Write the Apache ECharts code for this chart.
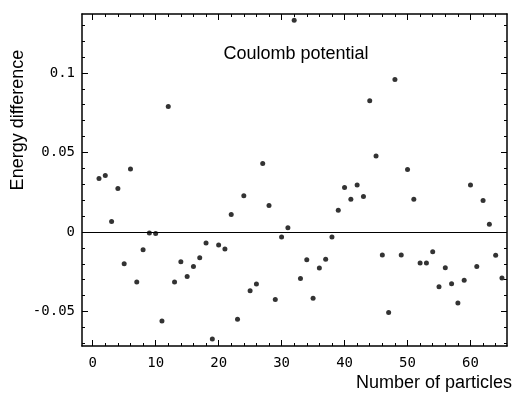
<!DOCTYPE html>
<html>
<head>
<meta charset="utf-8">
<script src="https://cdn.jsdelivr.net/npm/echarts@6/dist/echarts.min.js"></script>
<style>html,body{margin:0;padding:0;background:#fff}#c{width:514px;height:396px}</style>
</head>
<body>
<div id="c"></div>
<script>
// Number of particles (x)
const particles = [];
for (let i = 1; i <= 65; i++) particles.push(i);
// Energy difference (y)
const energyDiff = [
  0.0336, 0.0355, 0.0065, 0.0273, -0.0200, 0.0396, -0.0314, -0.0112, -0.0006, -0.0010,
  -0.0560, 0.0789, -0.0314, -0.0187, -0.0280, -0.0217, -0.0162, -0.0069, -0.0673, -0.0082,
  -0.0107, 0.0109, -0.0549, 0.0227, -0.0370, -0.0328, 0.0431, 0.0166, -0.0425, -0.0032,
  0.0027, 0.1330, -0.0292, -0.0175, -0.0417, -0.0227, -0.0172, -0.0032, 0.0137, 0.0280,
  0.0206, 0.0295, 0.0223, 0.0825, 0.0478, -0.0145, -0.0507, 0.0958, -0.0145, 0.0393,
  0.0206, -0.0196, -0.0196, -0.0124, -0.0345, -0.0225, -0.0326, -0.0446, -0.0303, 0.0295,
  -0.0217, 0.0198, 0.0049, -0.0147, -0.0290
];
const xMajorTicks = [0, 10, 20, 30, 40, 50, 60];
const xMinorTicks = [2,4,6,8,12,14,16,18,22,24,26,28,32,34,36,38,42,44,46,48,52,54,56,58,62,64];
const yMajorTicks = [-0.05, 0, 0.05, 0.1];
const yMinorTicks = [-0.07,-0.06,-0.04,-0.03,-0.02,-0.01,0.01,0.02,0.03,0.04,0.06,0.07,0.08,0.09,0.11,0.12,0.13];
const xLabels = ['0','10','20','30','40','50','60'];
const yLabels = ['-0.05','0','0.05','0.1'];

const X_MIN = -1.7, X_MAX = 65.8, Y_MIN = -0.0717, Y_MAX = 0.137;
const monoFont = 'DejaVu Sans Mono';
const sansFont = 'Liberation Sans';

function xAxisDef(pos, ticks, len, showLabel, showLine) {
  return {
    type: 'value', position: pos, min: X_MIN, max: X_MAX,
    splitLine: { show: false },
    axisLine: { show: showLine, onZero: false, lineStyle: { color: '#000', width: 1.5 } },
    axisTick: { show: true, inside: true, length: len, customValues: ticks, lineStyle: { color: '#000', width: 1 } },
    axisLabel: showLabel ? {
      show: true, customValues: ticks, margin: 10, color: '#000',
      fontFamily: monoFont, fontSize: 14,
      formatter: v => xLabels[xMajorTicks.indexOf(Math.round(v))]
    } : { show: false }
  };
}
function yAxisDef(pos, ticks, len, showLabel, showLine) {
  return {
    type: 'value', position: pos, min: Y_MIN, max: Y_MAX,
    splitLine: { show: false },
    axisLine: { show: showLine, onZero: false, lineStyle: { color: '#000', width: 1.5 } },
    axisTick: { show: true, inside: true, length: len, customValues: ticks, lineStyle: { color: '#000', width: 1 } },
    axisLabel: showLabel ? {
      show: true, customValues: ticks, margin: 7, color: '#000',
      fontFamily: monoFont, fontSize: 14,
      formatter: v => {
        const i = yMajorTicks.findIndex(t => Math.abs(t - v) < 1e-6);
        return i >= 0 ? yLabels[i] : '';
      }
    } : { show: false }
  };
}

const xa0 = xAxisDef('bottom', xMajorTicks, 6, true, true);
xa0.name = 'Number of particles';
xa0.nameLocation = 'end';
xa0.nameGap = 5;
xa0.nameMoveOverlap = false;
xa0.nameTextStyle = { fontFamily: sansFont, fontSize: 18, color: '#000', align: 'right', verticalAlign: 'top', padding: [28, 0, 0, 0] };

const ya0 = yAxisDef('left', yMajorTicks, 6, true, true);
ya0.name = 'Energy difference';
ya0.nameLocation = 'middle';
ya0.nameRotate = 90;
ya0.nameGap = 55;
ya0.nameMoveOverlap = false;
ya0.nameTextStyle = { fontFamily: sansFont, fontSize: 18, color: '#000', padding: [0, 0, 0, 120] };

const chart = echarts.init(document.getElementById('c'), null, { renderer: 'canvas' });
chart.setOption({
  animation: false,
  backgroundColor: '#fff',
  title: {
    text: 'Coulomb potential', left: 291, top: 40, textAlign: 'center',
    textStyle: { fontFamily: sansFont, fontSize: 18, fontWeight: 'normal', color: '#000' }
  },
  grid: { left: 82, right: 7, top: 14, bottom: 50, containLabel: false, outerBoundsMode: 'none' },
  xAxis: [
    xa0,
    xAxisDef('bottom', xMinorTicks, 3, false, false),
    xAxisDef('top', xMajorTicks, 6, false, true),
    xAxisDef('top', xMinorTicks, 3, false, false)
  ],
  yAxis: [
    ya0,
    yAxisDef('left', yMinorTicks, 3, false, false),
    yAxisDef('right', yMajorTicks, 6, false, true),
    yAxisDef('right', yMinorTicks, 3, false, false)
  ],
  series: [{
    type: 'scatter',
    xAxisIndex: 0, yAxisIndex: 0,
    symbol: 'circle', symbolSize: 5,
    itemStyle: { color: '#000' },
    data: particles.map((n, i) => [n, energyDiff[i]]),
    markLine: {
      silent: true, symbol: 'none', label: { show: false },
      lineStyle: { color: '#000', width: 1.2, type: 'solid' },
      data: [{ yAxis: 0 }]
    }
  }]
});
</script>
</body>
</html>
